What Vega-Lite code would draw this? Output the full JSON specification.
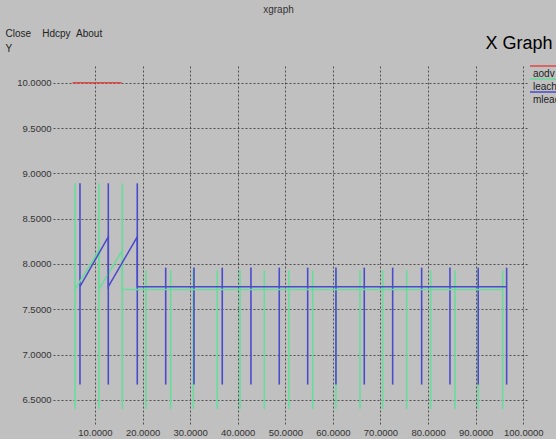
{
  "$schema": "https://vega.github.io/schema/vega-lite/v6.json",
  "width": 475,
  "height": 358,
  "autosize": {"type": "none"},
  "padding": {"left": 53, "top": 66, "right": 28, "bottom": 15},
  "background": "#c0c0c0",
  "title": {"text": "xgraph", "anchor": "middle", "frame": "group", "offset": 13, "dx": -12, "fontSize": 10, "fontWeight": "normal", "font": "Liberation Sans", "color": "#333333"},
  "config": {
    "view": {"stroke": null, "fill": "#c0c0c0"},
    "axis": {
      "grid": true, "gridColor": "#333333", "gridDash": [2, 2], "gridOpacity": 0.8, "gridWidth": 1,
      "domain": false, "ticks": false, "tickSize": 0,
      "labelFont": "Liberation Sans", "labelFontSize": 9.5, "labelColor": "#333333",
      "titleFont": "Liberation Sans", "titleFontWeight": "normal", "titleColor": "#222222"
    },
    "legend": {
      "orient": "none", "legendX": 476, "legendY": 2,
      "symbolType": "M -1 -1.6 H 5", "symbolSize": 100, "symbolStrokeWidth": 1.5,
      "labelOffset": -8, "rowPadding": -3, "labelFontSize": 10, "labelFont": "Liberation Sans",
      "labelColor": "#222222", "padding": 0, "title": null
    }
  },
  "datasets": {
    "bars": [
      {"series": "leach", "x": 5.80, "lo": 6.40, "hi": 8.89},
      {"series": "leach", "x": 10.84, "lo": 6.40, "hi": 8.89},
      {"series": "leach", "x": 15.74, "lo": 6.40, "hi": 8.89},
      {"series": "leach", "x": 20.72, "lo": 6.40, "hi": 7.93},
      {"series": "leach", "x": 25.91, "lo": 6.40, "hi": 7.93},
      {"series": "leach", "x": 30.66, "lo": 6.40, "hi": 7.93},
      {"series": "leach", "x": 35.70, "lo": 6.40, "hi": 7.93},
      {"series": "leach", "x": 40.47, "lo": 6.40, "hi": 7.93},
      {"series": "leach", "x": 45.58, "lo": 6.40, "hi": 7.93},
      {"series": "leach", "x": 50.77, "lo": 6.40, "hi": 7.93},
      {"series": "leach", "x": 55.75, "lo": 6.40, "hi": 7.93},
      {"series": "leach", "x": 60.64, "lo": 6.40, "hi": 7.93},
      {"series": "leach", "x": 65.69, "lo": 6.40, "hi": 7.93},
      {"series": "leach", "x": 70.46, "lo": 6.40, "hi": 7.93},
      {"series": "leach", "x": 75.50, "lo": 6.40, "hi": 7.93},
      {"series": "leach", "x": 80.54, "lo": 6.40, "hi": 7.93},
      {"series": "leach", "x": 85.65, "lo": 6.40, "hi": 7.93},
      {"series": "leach", "x": 90.54, "lo": 6.40, "hi": 7.93},
      {"series": "leach", "x": 95.67, "lo": 6.40, "hi": 7.93},
      {"series": "mleach", "x": 6.85, "lo": 6.67, "hi": 8.89},
      {"series": "mleach", "x": 12.80, "lo": 6.67, "hi": 8.89},
      {"series": "mleach", "x": 18.89, "lo": 6.67, "hi": 8.89},
      {"series": "mleach", "x": 24.86, "lo": 6.67, "hi": 7.96},
      {"series": "mleach", "x": 30.81, "lo": 6.67, "hi": 7.96},
      {"series": "mleach", "x": 36.75, "lo": 6.67, "hi": 7.96},
      {"series": "mleach", "x": 42.78, "lo": 6.67, "hi": 7.96},
      {"series": "mleach", "x": 48.73, "lo": 6.67, "hi": 7.96},
      {"series": "mleach", "x": 54.70, "lo": 6.67, "hi": 7.96},
      {"series": "mleach", "x": 60.64, "lo": 6.67, "hi": 7.96},
      {"series": "mleach", "x": 66.59, "lo": 6.67, "hi": 7.96},
      {"series": "mleach", "x": 72.56, "lo": 6.67, "hi": 7.96},
      {"series": "mleach", "x": 78.65, "lo": 6.67, "hi": 7.96},
      {"series": "mleach", "x": 84.60, "lo": 6.67, "hi": 7.96},
      {"series": "mleach", "x": 90.54, "lo": 6.67, "hi": 7.96},
      {"series": "mleach", "x": 96.51, "lo": 6.67, "hi": 7.96}
    ],
    "path": [
      {"series": "aodv", "step": 1, "x": 5.3, "y": 10.0},
      {"series": "aodv", "step": 2, "x": 15.6, "y": 10.0},
      {"series": "leach", "step": 1, "x": 5.80, "y": 7.72},
      {"series": "leach", "step": 2, "x": 10.84, "y": 8.15},
      {"series": "leach", "step": 3, "x": 10.84, "y": 7.72},
      {"series": "leach", "step": 4, "x": 15.74, "y": 8.15},
      {"series": "leach", "step": 5, "x": 15.74, "y": 7.72},
      {"series": "leach", "step": 6, "x": 20.72, "y": 7.72},
      {"series": "leach", "step": 7, "x": 25.91, "y": 7.72},
      {"series": "leach", "step": 8, "x": 30.66, "y": 7.72},
      {"series": "leach", "step": 9, "x": 35.70, "y": 7.72},
      {"series": "leach", "step": 10, "x": 40.47, "y": 7.72},
      {"series": "leach", "step": 11, "x": 45.58, "y": 7.72},
      {"series": "leach", "step": 12, "x": 50.77, "y": 7.72},
      {"series": "leach", "step": 13, "x": 55.75, "y": 7.72},
      {"series": "leach", "step": 14, "x": 60.64, "y": 7.72},
      {"series": "leach", "step": 15, "x": 65.69, "y": 7.72},
      {"series": "leach", "step": 16, "x": 70.46, "y": 7.72},
      {"series": "leach", "step": 17, "x": 75.50, "y": 7.72},
      {"series": "leach", "step": 18, "x": 80.54, "y": 7.72},
      {"series": "leach", "step": 19, "x": 85.65, "y": 7.72},
      {"series": "leach", "step": 20, "x": 90.54, "y": 7.72},
      {"series": "leach", "step": 21, "x": 95.67, "y": 7.72},
      {"series": "mleach", "step": 1, "x": 6.85, "y": 7.75},
      {"series": "mleach", "step": 2, "x": 12.80, "y": 8.30},
      {"series": "mleach", "step": 3, "x": 12.80, "y": 7.75},
      {"series": "mleach", "step": 4, "x": 18.89, "y": 8.30},
      {"series": "mleach", "step": 5, "x": 18.89, "y": 7.75},
      {"series": "mleach", "step": 6, "x": 24.86, "y": 7.75},
      {"series": "mleach", "step": 7, "x": 30.81, "y": 7.75},
      {"series": "mleach", "step": 8, "x": 36.75, "y": 7.75},
      {"series": "mleach", "step": 9, "x": 42.78, "y": 7.75},
      {"series": "mleach", "step": 10, "x": 48.73, "y": 7.75},
      {"series": "mleach", "step": 11, "x": 54.70, "y": 7.75},
      {"series": "mleach", "step": 12, "x": 60.64, "y": 7.75},
      {"series": "mleach", "step": 13, "x": 66.59, "y": 7.75},
      {"series": "mleach", "step": 14, "x": 72.56, "y": 7.75},
      {"series": "mleach", "step": 15, "x": 78.65, "y": 7.75},
      {"series": "mleach", "step": 16, "x": 84.60, "y": 7.75},
      {"series": "mleach", "step": 17, "x": 90.54, "y": 7.75},
      {"series": "mleach", "step": 18, "x": 96.51, "y": 7.75}
    ]
  },
  "layer": [
    {
      "data": {"name": "bars"},
      "mark": {"type": "rule", "strokeWidth": 1.6},
      "encoding": {
        "x": {"field": "x", "type": "quantitative", "scale": {"domain": [1.18, 101.0], "nice": false, "zero": false},
              "axis": {"values": [10, 20, 30, 40, 50, 60, 70, 80, 90, 100], "format": ".4f", "labelPadding": 3,
                       "title": "X Graph", "titleFontSize": 18, "titleColor": "#000000", "titleAlign": "right", "titleBaseline": "alphabetic", "titleX": 499, "titleY": -376}},
        "y": {"field": "lo", "type": "quantitative", "scale": {"domain": [6.235, 10.184], "nice": false, "zero": false},
              "axis": {"values": [6.5, 7.0, 7.5, 8.0, 8.5, 9.0, 9.5, 10.0], "format": ".4f", "labelPadding": 2,
                       "title": ["Close\u00a0\u00a0\u00a0\u00a0Hdcpy\u00a0\u00a0About", "Y"], "titleFontSize": 10, "titleAngle": 0, "titleAlign": "left", "titleBaseline": "alphabetic", "titleLineHeight": 15, "titleX": -48, "titleY": -30}},
        "y2": {"field": "hi"},
        "color": {"field": "series", "type": "nominal", "scale": {"domain": ["aodv", "leach", "mleach"], "range": ["#e04848", "#66dd9a", "#4a4acc"]}}
      }
    },
    {
      "data": {"name": "path"},
      "mark": {"type": "line", "strokeWidth": 1.5},
      "encoding": {
        "x": {"field": "x", "type": "quantitative"},
        "y": {"field": "y", "type": "quantitative"},
        "order": {"field": "step", "type": "quantitative"},
        "color": {"field": "series", "type": "nominal"}
      }
    }
  ]
}
